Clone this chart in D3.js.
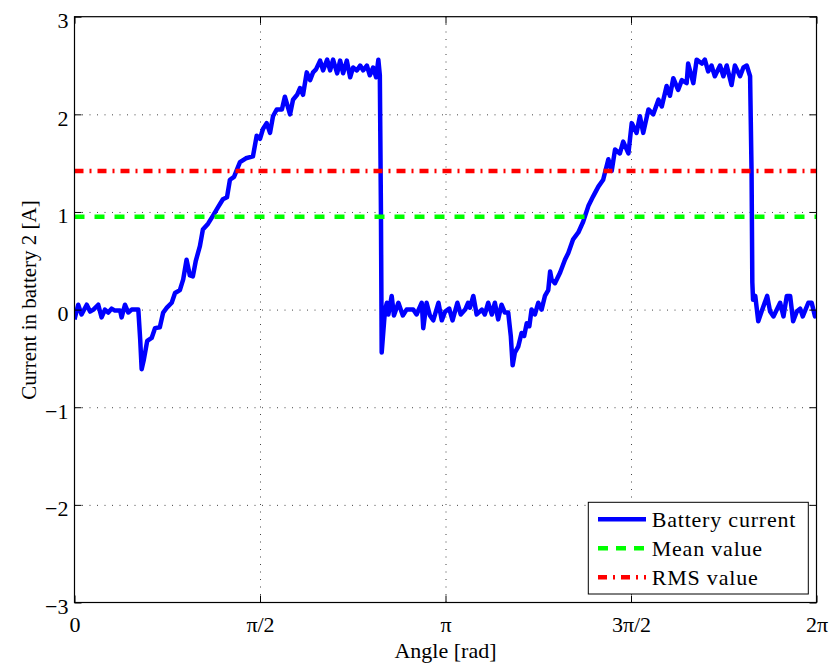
<!DOCTYPE html>
<html>
<head>
<meta charset="UTF-8">
<title>Battery current</title>
<style>
  body { margin: 0; background: #fff; }
  svg { display: block; font-family: "Liberation Serif", "Times New Roman", serif; }
  .grid line { stroke: #444; stroke-width: 1; stroke-dasharray: 1,6.5; }
  .grid path { display: none; }
</style>
</head>
<body>
<svg width="836" height="665"></svg>
<script src="https://d3js.org/d3.v7.min.js"></script>
<script>
// angle in multiples of pi, current in A
let anglePi = [
  0.000, 0.010, 0.019, 0.033, 0.042, 0.051, 0.064, 0.073, 0.082, 0.091,
  0.100, 0.109, 0.123, 0.127, 0.136, 0.145, 0.154, 0.172, 0.177, 0.181,
  0.187, 0.196, 0.208, 0.217, 0.230, 0.239, 0.249, 0.262, 0.271, 0.284,
  0.293, 0.302, 0.311, 0.319, 0.327, 0.338, 0.346, 0.360, 0.373, 0.387,
  0.400, 0.411, 0.419, 0.430, 0.446, 0.462, 0.481, 0.491, 0.500, 0.508,
  0.518, 0.527, 0.535, 0.545, 0.559, 0.567, 0.581, 0.589, 0.600, 0.608,
  0.616, 0.626, 0.635, 0.643, 0.651, 0.662, 0.670, 0.681, 0.689, 0.697,
  0.708, 0.716, 0.724, 0.734, 0.743, 0.751, 0.761, 0.770, 0.778, 0.788,
  0.796, 0.805, 0.813, 0.819, 0.823, 0.826, 0.828, 0.837, 0.842, 0.846,
  0.855, 0.861, 0.873, 0.885, 0.895, 0.913, 0.922, 0.936, 0.940, 0.949,
  0.958, 0.967, 0.981, 0.990, 0.999, 1.010, 1.019, 1.032, 1.041, 1.053,
  1.061, 1.066, 1.075, 1.084, 1.098, 1.106, 1.115, 1.125, 1.133, 1.142,
  1.151, 1.160, 1.169, 1.176, 1.181, 1.187, 1.196, 1.205, 1.212, 1.219,
  1.226, 1.232, 1.241, 1.250, 1.259, 1.268, 1.277, 1.282, 1.286, 1.295,
  1.309, 1.322, 1.331, 1.344, 1.358, 1.371, 1.385, 1.398, 1.412, 1.425,
  1.439, 1.448, 1.457, 1.470, 1.479, 1.493, 1.502, 1.515, 1.524, 1.533,
  1.547, 1.560, 1.574, 1.583, 1.596, 1.605, 1.614, 1.627, 1.637, 1.650,
  1.654, 1.668, 1.677, 1.691, 1.699, 1.708, 1.717, 1.726, 1.740, 1.749,
  1.758, 1.771, 1.780, 1.794, 1.803, 1.812, 1.821, 1.825, 1.827, 1.829,
  1.835, 1.843, 1.852, 1.867, 1.875, 1.884, 1.902, 1.911, 1.920, 1.929,
  1.937, 1.947, 1.956, 1.963, 1.978, 1.987, 1.996, 2.000
];
let current = [
  -0.10, 0.05, -0.05, 0.05, -0.02, 0.00, 0.05, -0.08, 0.00, -0.03,
  0.01, -0.01, -0.01, -0.08, 0.05, -0.03, 0.00, 0.00, -0.30, -0.61,
  -0.51, -0.32, -0.29, -0.19, -0.18, -0.03, 0.02, 0.07, 0.17, 0.20,
  0.31, 0.51, 0.35, 0.34, 0.50, 0.65, 0.82, 0.88, 0.96, 1.05,
  1.13, 1.15, 1.33, 1.36, 1.51, 1.55, 1.57, 1.78, 1.75, 1.85,
  1.91, 1.81, 1.98, 2.05, 2.05, 2.18, 2.00, 2.15, 2.20, 2.27,
  2.20, 2.43, 2.35, 2.43, 2.46, 2.55, 2.45, 2.56, 2.45, 2.56,
  2.42, 2.55, 2.42, 2.55, 2.38, 2.48, 2.45, 2.50, 2.45, 2.50,
  2.40, 2.48, 2.38, 2.56, 2.40, 1.00, -0.44, 0.00, 0.07, -0.05,
  0.14, -0.06, 0.07, -0.06, 0.00, 0.00, -0.05, 0.07, -0.19, 0.07,
  -0.06, -0.11, 0.07, -0.11, -0.02, 0.01, -0.11, 0.07, -0.05, 0.00,
  0.07, 0.02, 0.14, -0.05, 0.00, -0.05, 0.07, -0.05, 0.07, -0.10,
  0.05, -0.03, -0.03, -0.27, -0.57, -0.44, -0.38, -0.24, -0.27, -0.14,
  -0.17, 0.00, -0.05, 0.07, 0.00, 0.14, 0.20, 0.39, 0.31, 0.27,
  0.38, 0.51, 0.58, 0.72, 0.79, 0.90, 1.06, 1.16, 1.26, 1.33,
  1.54, 1.42, 1.64, 1.60, 1.72, 1.60, 1.91, 1.81, 1.98, 1.81,
  2.05, 2.00, 2.15, 2.08, 2.29, 2.19, 2.37, 2.25, 2.35, 2.32,
  2.52, 2.32, 2.56, 2.52, 2.56, 2.44, 2.50, 2.39, 2.50, 2.39,
  2.50, 2.30, 2.50, 2.39, 2.48, 2.50, 2.39, 1.40, 0.28, 0.10,
  0.14, -0.12, -0.02, 0.14, -0.02, -0.07, 0.07, -0.07, 0.14, 0.14,
  -0.12, -0.02, 0.01, -0.07, 0.07, 0.07, -0.07, -0.03
];
let meanValue = 0.95;
let rmsValue = 1.42;

let xTicks = [0, Math.PI / 2, Math.PI, 3 * Math.PI / 2, 2 * Math.PI];
let xTickLabels = ["0", "\u03c0/2", "\u03c0", "3\u03c0/2", "2\u03c0"];
let yTicks = [-3, -2, -1, 0, 1, 2, 3];
let legendLabels = ["Battery current", "Mean value", "RMS value"];

let plotLeft = 74.5, plotRight = 816.5, plotTop = 16.7, plotBottom = 602.5;
let svg = d3.select("svg");

let x = d3.scaleLinear().domain([0, 2 * Math.PI]).range([plotLeft, plotRight]);
let y = d3.scaleLinear().domain([-3, 3]).range([plotBottom, plotTop]);

// dotted grid
svg.append("g").attr("class", "grid")
    .attr("transform", `translate(0,${plotBottom})`)
    .call(d3.axisBottom(x).tickValues(xTicks.slice(1, -1)).tickSize(-(plotBottom - plotTop)).tickFormat(""));
svg.append("g").attr("class", "grid")
    .attr("transform", `translate(${plotLeft},0)`)
    .call(d3.axisLeft(y).tickValues(yTicks.slice(1, -1)).tickSize(-(plotRight - plotLeft)).tickFormat(""));

let data = anglePi.map((a, i) => [a * Math.PI, current[i]]);

svg.append("defs").append("clipPath").attr("id", "plotclip")
    .append("rect").attr("x", plotLeft).attr("y", plotTop)
    .attr("width", plotRight - plotLeft).attr("height", plotBottom - plotTop);

let plot = svg.append("g").attr("clip-path", "url(#plotclip)");

plot.append("path")
    .datum(data)
    .attr("fill", "none")
    .attr("stroke", "#0000ff")
    .attr("stroke-width", 4.5)
    .attr("stroke-linejoin", "round")
    .attr("d", d3.line().x(d => x(d[0])).y(d => y(d[1])));

plot.append("line")
    .attr("x1", x(0)).attr("x2", x(2 * Math.PI))
    .attr("y1", y(meanValue)).attr("y2", y(meanValue))
    .attr("stroke", "#00ff00").attr("stroke-width", 4.5)
    .attr("stroke-dasharray", "10,10");

plot.append("line")
    .attr("x1", x(0)).attr("x2", x(2 * Math.PI))
    .attr("y1", y(rmsValue)).attr("y2", y(rmsValue))
    .attr("stroke", "#ff0000").attr("stroke-width", 4.5)
    .attr("stroke-dasharray", "9,6,2,6");

// axes with inward ticks
let tickFont = g => {
    g.select(".domain").remove();
    g.selectAll("line").attr("stroke", "#000");
    g.selectAll("text").attr("font-size", 22).attr("fill", "#000")
        .attr("font-family", "Liberation Serif, Times New Roman, serif");
};

svg.append("g")
    .attr("transform", `translate(0,${plotBottom})`)
    .call(d3.axisBottom(x).tickValues(xTicks).tickSize(-7).tickPadding(14)
        .tickFormat((d, i) => xTickLabels[i]))
    .call(tickFont);

svg.append("g")
    .attr("transform", `translate(0,${plotTop})`)
    .call(d3.axisTop(x).tickValues(xTicks).tickSize(-7).tickFormat(""))
    .call(tickFont);

svg.append("g")
    .attr("transform", `translate(${plotLeft},0)`)
    .call(d3.axisLeft(y).tickValues(yTicks).tickSize(-7).tickPadding(6)
        .tickFormat(d => d < 0 ? "\u2212" + Math.abs(d) : d))
    .call(tickFont)
    .selectAll("text").attr("dy", "0.5em");

svg.append("g")
    .attr("transform", `translate(${plotRight},0)`)
    .call(d3.axisRight(y).tickValues(yTicks).tickSize(-7).tickFormat(""))
    .call(tickFont);

svg.append("rect")
    .attr("x", plotLeft).attr("y", plotTop)
    .attr("width", plotRight - plotLeft).attr("height", plotBottom - plotTop)
    .attr("fill", "none").attr("stroke", "#000").attr("stroke-width", 1.2);

// axis labels
svg.append("text")
    .attr("x", (plotLeft + plotRight) / 2).attr("y", 658)
    .attr("text-anchor", "middle").attr("font-size", 22)
    .text("Angle [rad]");

svg.append("text")
    .attr("transform", "translate(36,300) rotate(-90)")
    .attr("text-anchor", "middle").attr("font-size", 21)
    .text("Current in battery 2 [A]");

// legend
let legend = svg.append("g");
legend.append("rect")
    .attr("x", 588.3).attr("y", 502.3).attr("width", 220).attr("height", 91.7)
    .attr("fill", "#fff").attr("stroke", "#000").attr("stroke-width", 1);

let legendStyles = [
    { color: "#0000ff", dash: null },
    { color: "#00ff00", dash: "10,8" },
    { color: "#ff0000", dash: "9,6,2,6" }
];
legendLabels.forEach((label, i) => {
    let ly = 519.3 + i * 29;
    legend.append("line")
        .attr("x1", 598).attr("x2", 646).attr("y1", ly).attr("y2", ly)
        .attr("stroke", legendStyles[i].color).attr("stroke-width", 4.5)
        .attr("stroke-dasharray", legendStyles[i].dash);
    legend.append("text")
        .attr("x", 651.7).attr("y", ly + 8)
        .attr("font-size", 22)
        .attr("letter-spacing", 0.8)
        .text(label);
});
</script>
</body>
</html>
